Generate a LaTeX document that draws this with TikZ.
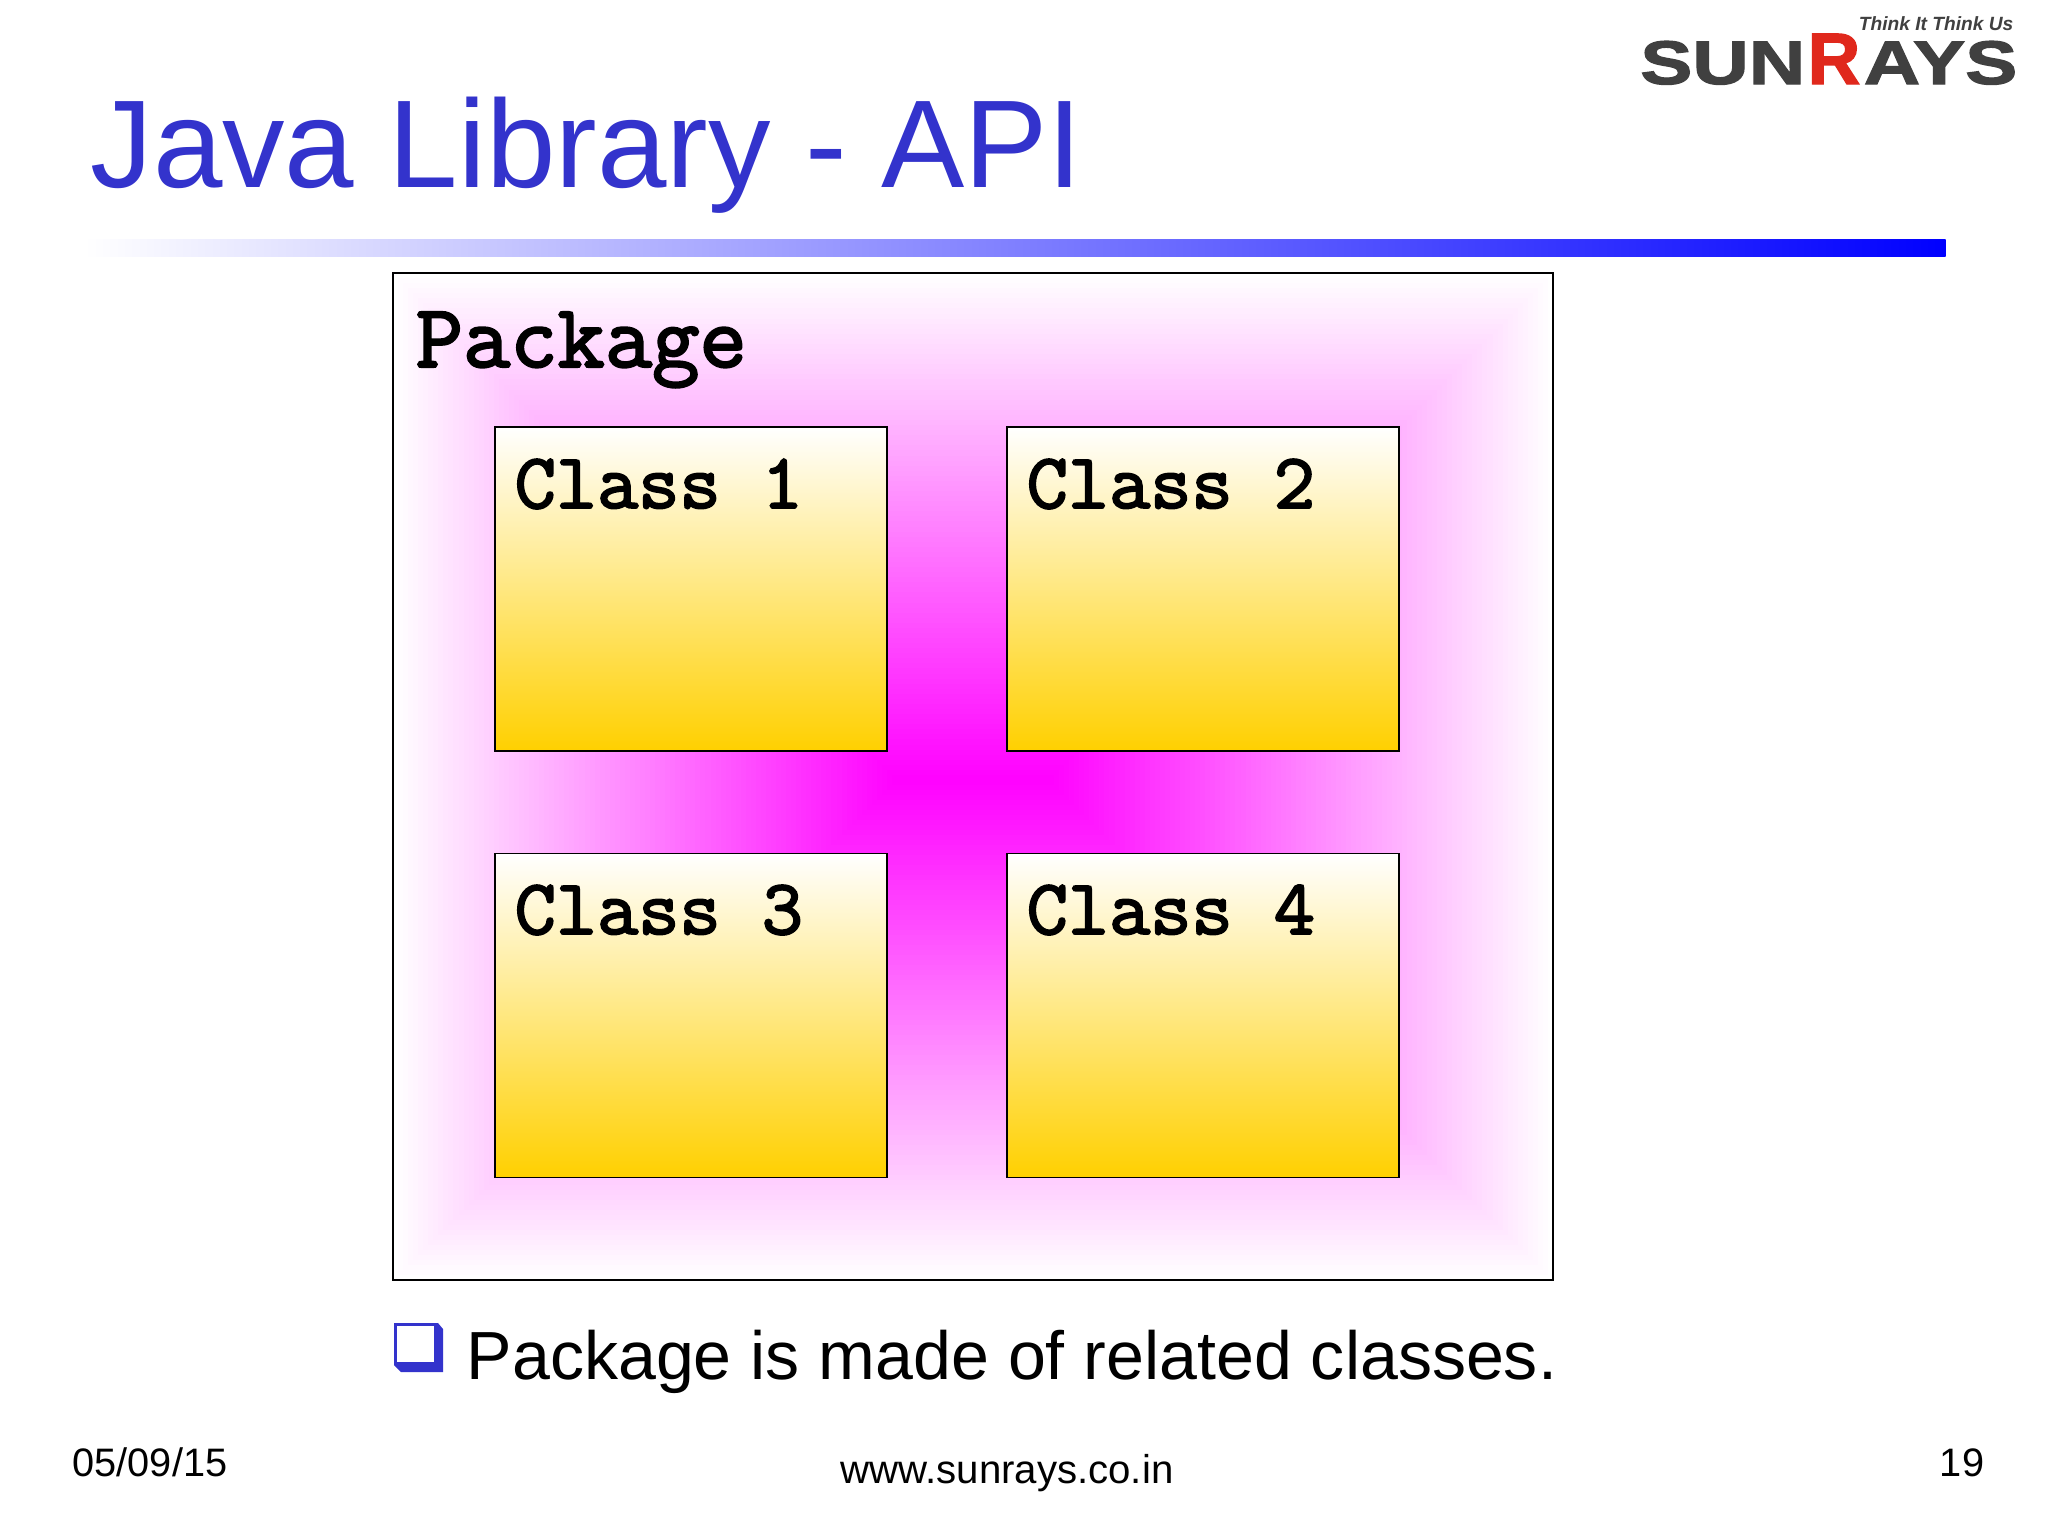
\documentclass[tikz,border=0pt]{standalone}
\usepackage{fontspec}
\setmainfont{Liberation Sans}
\newfontfamily\logofont[FakeStretch=1.27,FakeBold=2]{Liberation Sans Bold}
\newfontfamily\logoredfont[FakeBold=2]{Liberation Sans Bold}
\newfontfamily\classfont[FakeBold=2.5,FakeStretch=1.02]{Latin Modern Mono}
\definecolor{titleblue}{RGB}{51,51,204}
\definecolor{packmagenta}{RGB}{255,0,255}
\definecolor{classgold}{RGB}{255,208,0}
\definecolor{logogray}{RGB}{64,64,64}
\definecolor{logored}{RGB}{224,40,28}
\tikzset{
	classbox/.style={draw=black,top color=white,bottom color=classgold,minimum width=3.92cm,minimum height=3.24cm,inner sep=0pt,line width=0.4pt},
	classtext/.style={anchor=base west,inner sep=0pt,font=\classfont\fontsize{22.3}{23}\selectfont},
	foot/.style={anchor=base,inner sep=0pt,font=\fontsize{11.3}{12}\selectfont},
}

\begin{document}
\begin{tikzpicture}[x=0.01cm,y=-0.01cm]
		\useasboundingbox (0,0) rectangle (2048,1536);
		\fill[white] (0,0) rectangle (2048,1536);

		\node (title) at (90,187) [anchor=base west,inner sep=0pt,text=titleblue,font=\fontsize{35.5}{36}\selectfont] {Java Library - API};
		\node (bar) at (1015,247.5) [left color=white,right color=blue,minimum width=18.6cm,minimum height=0.17cm,inner sep=0pt] {};

		% logo
		\node (think) at (2014,30) [anchor=base east,inner sep=0pt,text=logogray,font=\bfseries\itshape\fontsize{5.45}{6}\selectfont] {Think It Think Us};
		\node (sun) at (1806,84) [anchor=base east,inner sep=0pt,text=logogray,font=\logofont\fontsize{17.5}{18}\selectfont] {SUN};
		\node (r) at (1807,84) [anchor=base west,inner sep=0pt,text=logored,font=\logoredfont\fontsize{20.7}{21}\selectfont] {R};
		\node (ays) at (2018,84) [anchor=base east,inner sep=0pt,text=logogray,font=\logofont\fontsize{17.5}{18}\selectfont] {AYS};

		% package background
		\foreach \t in {0,...,99} {
			\pgfmathsetmacro{\xa}{393+5.04*\t}
			\pgfmathsetmacro{\xb}{1553-5.04*\t}
			\pgfmathsetmacro{\ya}{273+5.07*\t}
			\pgfmathsetmacro{\yb}{1280-5*\t}
			\fill[packmagenta!\t!white] (\xa,\ya) rectangle (\xb,\yb);
		}
		\node (package) at (973,776.5) [draw=black,line width=0.5pt,minimum width=11.6cm,minimum height=10.07cm,inner sep=0pt] {};
		\node (packagetext) at (415,367) [anchor=base west,inner sep=0pt,font=\classfont\fontsize{25.6}{26}\selectfont] {Package};

		\node (c1) at (691,589) [classbox] {};
		\node (c2) at (1203,589) [classbox] {};
		\node (c3) at (691,1015.5) [classbox] {};
		\node (c4) at (1203,1015.5) [classbox] {};
		\node (c1text) at (514,508) [classtext] {Class 1};
		\node (c2text) at (1026,508) [classtext] {Class 2};
		\node (c3text) at (514,934) [classtext] {Class 3};
		\node (c4text) at (1026,934) [classtext] {Class 4};

		% bullet
		\fill[titleblue] (394,1323) -- (438,1323) -- (443,1329) -- (443,1372) -- (401,1372) -- (394,1365) -- cycle;
		\fill[white] (397,1326) rectangle (434,1362);
		\node (bullettext) at (466,1379) [anchor=base west,inner sep=0pt,font=\fontsize{19.37}{20}\selectfont] {Package is made of related classes.};

		\node (date) at (150,1476) [foot] {05/09/15};
		\node (url) at (1007,1483) [foot,font=\fontsize{11.43}{12}\selectfont] {www.sunrays.co.in};
		\node (page) at (1962,1476) [foot] {19};
	\end{tikzpicture}
\end{document}
